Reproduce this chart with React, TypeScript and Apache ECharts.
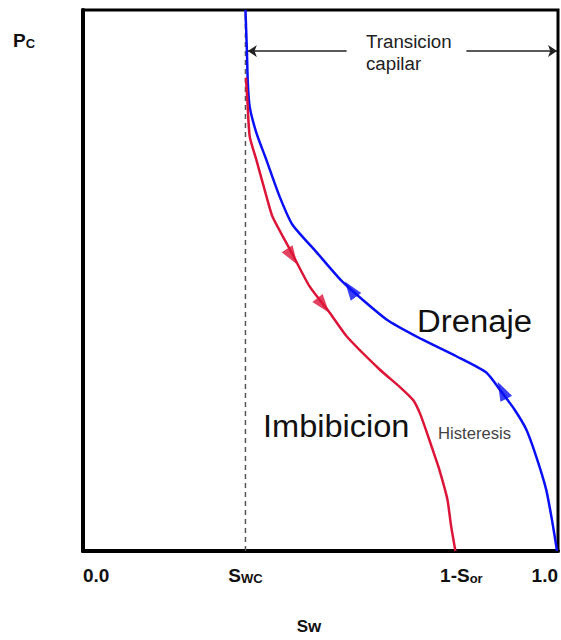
import React, { useEffect, useRef } from 'react';
import * as echarts from 'echarts';

// Saturation end points on the Sw axis
const SWC = 0.342;
const ONE_MINUS_SOR = 0.784;

// Bottom axis ticks and their labels (rich-text tokens)
const tickValues = [0, SWC, ONE_MINUS_SOR, 1];
const tickLabels = ['{n|0.0}', '{n|S}{s|WC}', '{g|}{n|1-S}{s|or}', '{n|1.0}'];

// Drainage curve (blue): Sw and normalised Pc
const drenajeSw = [0.342, 0.345, 0.347, 0.351, 0.365, 0.386, 0.414, 0.441, 0.492, 0.546, 0.639, 0.714, 0.786, 0.849, 0.882, 0.908, 0.933, 0.954, 0.975, 0.987, 0.998];
const drenajePc = [1.0, 0.926, 0.865, 0.821, 0.773, 0.723, 0.655, 0.603, 0.552, 0.498, 0.428, 0.391, 0.36, 0.33, 0.293, 0.262, 0.225, 0.175, 0.114, 0.059, 0.0];

// Imbibition curve (red)
const imbibicionSw = [0.343, 0.346, 0.351, 0.365, 0.387, 0.399, 0.439, 0.477, 0.519, 0.555, 0.624, 0.666, 0.695, 0.71, 0.725, 0.737, 0.75, 0.767, 0.775, 0.784];
const imbibicionPc = [0.875, 0.834, 0.766, 0.723, 0.653, 0.618, 0.552, 0.489, 0.441, 0.397, 0.336, 0.304, 0.279, 0.253, 0.216, 0.185, 0.151, 0.096, 0.046, 0.0];

// Direction arrows on each curve: [Sw, Pc, rotation in degrees]
const arrowsImbibicion = [
  [0.4406, 0.544, 213],
  [0.506, 0.454, 218],
];
const arrowsDrenaje = [
  [0.563, 0.484, 36],
  [0.882, 0.297, 27],
];

// Capillary transition span (Pc level of the double arrow)
const transicionPc = 0.924;
const transicionLeft = [0.347, 0.555];
const transicionRight = [0.807, 0.998];

const FONT = '"Liberation Sans", Arial, Helvetica, sans-serif';
const BLUE = '#0a10f5';
const RED = '#dc1438';

const zip = (xs: number[], ys: number[]) => xs.map((x, i) => [x, ys[i]]);

export default function App() {
  const ref = useRef<HTMLDivElement>(null);

  useEffect(() => {
    if (!ref.current) return;
    const chart = echarts.init(ref.current, undefined, { renderer: 'svg' });

    const labelFor = (v: number) => {
      let best = 0;
      tickValues.forEach((t, i) => {
        if (Math.abs(t - v) < Math.abs(tickValues[best] - v)) best = i;
      });
      return tickLabels[best];
    };

    chart.setOption({
      animation: false,
      backgroundColor: '#ffffff',
      grid: {
        left: 83,
        right: 2,
        top: 10,
        bottom: 88,
        show: true,
        borderColor: '#000',
        borderWidth: 3,
      },
      xAxis: {
        type: 'value',
        min: 0,
        max: 1,
        axisLine: { show: true, lineStyle: { color: '#000', width: 4 } },
        axisTick: { show: false },
        splitLine: { show: false },
        axisLabel: {
          customValues: tickValues,
          alignMinLabel: 'left',
          alignMaxLabel: 'right',
          margin: 13,
          formatter: (v: number) => labelFor(v),
          rich: {
            n: { fontSize: 19, fontWeight: 'bold', fontFamily: FONT, color: '#111', lineHeight: 21, verticalAlign: 'bottom' },
            s: { fontSize: 13, fontWeight: 'bold', fontFamily: FONT, color: '#111', lineHeight: 16, verticalAlign: 'bottom' },
            g: { width: 12, lineHeight: 21 },
          },
        },
        name: 'Sw',
        nameLocation: 'middle',
        nameGap: 66,
        nameTextStyle: {
          fontSize: 17,
          fontWeight: 'bold',
          fontFamily: FONT,
          color: '#111',
          lineHeight: 18,
          padding: [0, 23, 0, 0],
        },
      },
      yAxis: {
        type: 'value',
        min: 0,
        max: 1,
        axisLine: { show: true, lineStyle: { color: '#000', width: 4 } },
        axisTick: { show: false },
        axisLabel: { show: false },
        splitLine: { show: false },
      },
      graphic: [
        {
          type: 'text',
          x: 13,
          y: 39,
          silent: true,
          style: {
            text: '{p|P}{c|C}',
            verticalAlign: 'middle',
            rich: {
              p: { fontSize: 19, fontWeight: 'bold', fontFamily: FONT, fill: '#111', lineHeight: 21, verticalAlign: 'bottom' },
              c: { fontSize: 13, fontWeight: 'bold', fontFamily: FONT, fill: '#111', lineHeight: 16, verticalAlign: 'bottom' },
            },
          },
        },
        {
          type: 'text',
          x: 366,
          y: 31,
          silent: true,
          scaleX: 1.04,
          style: {
            text: 'Transicion\ncapilar',
            fontSize: 18,
            fontFamily: FONT,
            fill: '#222',
            lineHeight: 22,
            align: 'left',
            verticalAlign: 'top',
          },
        },
        {
          type: 'text',
          x: 417,
          y: 321,
          silent: true,
          scaleX: 1.06,
          style: {
            text: 'Drenaje',
            fontSize: 31,
            fontFamily: FONT,
            fill: '#111',
            align: 'left',
            verticalAlign: 'middle',
          },
        },
        {
          type: 'text',
          x: 263,
          y: 426,
          silent: true,
          scaleX: 1.05,
          style: {
            text: 'Imbibicion',
            fontSize: 31,
            fontFamily: FONT,
            fill: '#111',
            align: 'left',
            verticalAlign: 'middle',
          },
        },
        {
          type: 'text',
          x: 438,
          y: 433,
          silent: true,
          scaleX: 1.04,
          style: {
            text: 'Histeresis',
            fontSize: 16,
            fontFamily: FONT,
            fill: '#444',
            align: 'left',
            verticalAlign: 'middle',
          },
        },
      ],
      series: [
        {
          name: 'Swc',
          type: 'line',
          data: [[SWC, 0], [SWC, 1]],
          symbol: 'none',
          silent: true,
          lineStyle: { color: '#555', width: 1.5, type: [5, 4] },
          markLine: {
            silent: true,
            animation: false,
            label: { show: false },
            symbolSize: 9,
            lineStyle: { color: '#222', width: 1.5, type: 'solid' },
            data: [
              [
                { coord: [transicionLeft[0], transicionPc], symbol: 'arrow' },
                { coord: [transicionLeft[1], transicionPc], symbol: 'none' },
              ],
              [
                { coord: [transicionRight[0], transicionPc], symbol: 'none' },
                { coord: [transicionRight[1], transicionPc], symbol: 'arrow' },
              ],
            ],
          },
        },
        {
          name: 'Drenaje',
          type: 'line',
          data: zip(drenajeSw, drenajePc),
          symbol: 'none',
          smooth: 0.2,
          silent: true,
          lineStyle: { color: BLUE, width: 2.5 },
        },
        {
          name: 'Imbibicion',
          type: 'line',
          data: zip(imbibicionSw, imbibicionPc),
          symbol: 'none',
          smooth: 0.2,
          silent: true,
          lineStyle: { color: RED, width: 2.5 },
        },
        {
          name: 'Flechas drenaje',
          type: 'scatter',
          data: arrowsDrenaje,
          symbol: 'triangle',
          symbolSize: [13, 19],
          symbolRotate: (v: number[]) => v[2],
          silent: true,
          itemStyle: { color: BLUE },
        },
        {
          name: 'Flechas imbibicion',
          type: 'scatter',
          data: arrowsImbibicion,
          symbol: 'triangle',
          symbolSize: [13, 19],
          symbolRotate: (v: number[]) => v[2],
          silent: true,
          itemStyle: { color: RED },
        },
      ],
    });

    return () => chart.dispose();
  }, []);

  return (
    <div
      ref={ref}
      style={{ position: 'fixed', left: 0, top: 0, width: 561, height: 640, background: '#fff' }}
    />
  );
}
